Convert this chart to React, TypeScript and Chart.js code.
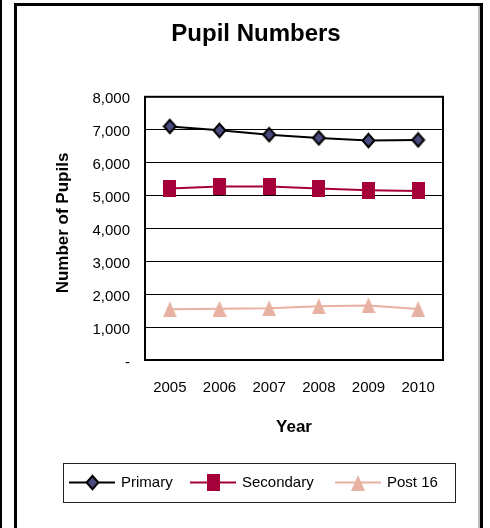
import React, { useEffect, useRef } from 'react';
import { Chart, registerables } from 'chart.js';

Chart.register(...registerables);

// ---- data ----
const years = ['2005', '2006', '2007', '2008', '2009', '2010'];
const primary = [7100, 6980, 6850, 6750, 6670, 6690];
const secondary = [5210, 5270, 5270, 5210, 5160, 5140];
const post16 = [1540, 1560, 1570, 1630, 1660, 1550];
const seriesLabels = ['Primary', 'Secondary', 'Post 16'];
const chartTitle = 'Pupil Numbers';
const xTitle = 'Year';
const yTitle = 'Number of Pupils';
const yMin = 0;
const yMax = 8000;
const yStep = 1000;

const FONT = '"Liberation Sans", Arial, Helvetica, sans-serif';
const PRIMARY_FILL = '#4B4A7E';
const SECONDARY_COLOR = '#A6003A';
const POST16_COLOR = '#E8B2A2';

function makeCanvas(w: number, h: number) {
  const c = document.createElement('canvas');
  c.width = w;
  c.height = h;
  return c;
}

function diamondImg() {
  const w = 15, h = 17;
  const c = makeCanvas(w, h);
  const ctx = c.getContext('2d')!;
  ctx.beginPath();
  ctx.moveTo(w / 2, 1.8);
  ctx.lineTo(w - 1.6, h / 2);
  ctx.lineTo(w / 2, h - 1.8);
  ctx.lineTo(1.6, h / 2);
  ctx.closePath();
  ctx.fillStyle = PRIMARY_FILL;
  ctx.fill();
  ctx.lineWidth = 2;
  ctx.lineJoin = 'miter';
  ctx.strokeStyle = '#000';
  ctx.stroke();
  return c;
}

function squareImg() {
  const c = makeCanvas(13, 17);
  const ctx = c.getContext('2d')!;
  ctx.fillStyle = SECONDARY_COLOR;
  ctx.fillRect(0, 0, 13, 17);
  return c;
}

function triangleImg() {
  const w = 14, h = 16;
  const c = makeCanvas(w, h);
  const ctx = c.getContext('2d')!;
  ctx.beginPath();
  ctx.moveTo(w / 2, 0);
  ctx.lineTo(w, h);
  ctx.lineTo(0, h);
  ctx.closePath();
  ctx.fillStyle = POST16_COLOR;
  ctx.fill();
  return c;
}

const decorPlugin = {
  id: 'decor',
  beforeDatasetsDraw(chart: any) {
    const { ctx, chartArea } = chart;
    ctx.save();
    ctx.strokeStyle = '#000';
    ctx.lineWidth = 2;
    ctx.strokeRect(chartArea.left, chartArea.top, chartArea.right - chartArea.left, chartArea.bottom - chartArea.top);
    ctx.restore();
  },
  afterDraw(chart: any) {
    const ctx = chart.ctx;
    ctx.save();
    // outer frames
    ctx.fillStyle = '#000';
    ctx.fillRect(0, 0, 2, 528);
    ctx.fillRect(14, 3, 469, 3);
    ctx.fillRect(14, 3, 3, 525);
    ctx.fillRect(480, 3, 3, 525);
    ctx.fillStyle = '#bbb';
    ctx.fillRect(478, 6, 2, 522);
    // y axis title
    ctx.save();
    ctx.translate(63.5, 223);
    ctx.rotate(-Math.PI / 2);
    ctx.fillStyle = '#000';
    ctx.font = 'bold 17px ' + FONT;
    ctx.textAlign = 'center';
    ctx.textBaseline = 'middle';
    ctx.fillText(yTitle, 0, 0);
    ctx.restore();
    // legend box
    ctx.strokeStyle = '#222';
    ctx.lineWidth = 1;
    ctx.strokeRect(63.5, 463.5, 392, 39);
    const starts = [69, 190, 335];
    const cy = 482.5;
    chart.data.datasets.forEach((ds: any, i: number) => {
      const x = starts[i];
      ctx.strokeStyle = ds.borderColor;
      ctx.lineWidth = ds.borderWidth;
      ctx.beginPath();
      ctx.moveTo(x, cy);
      ctx.lineTo(x + 46, cy);
      ctx.stroke();
      const img = ds.pointStyle;
      ctx.drawImage(img, Math.round(x + 23 - img.width / 2), Math.round(cy - img.height / 2));
      ctx.fillStyle = '#000';
      ctx.font = '15px ' + FONT;
      ctx.textBaseline = 'middle';
      ctx.textAlign = 'left';
      ctx.fillText(ds.label, x + 52, cy);
    });
    ctx.restore();
  },
};

export default function App() {
  const ref = useRef<HTMLCanvasElement | null>(null);
  useEffect(() => {
    if (!ref.current) return;
    const chart = new Chart(ref.current, {
      type: 'line',
      data: {
        labels: years,
        datasets: [
          {
            label: seriesLabels[0],
            data: primary,
            borderColor: '#000',
            borderWidth: 2,
            pointStyle: diamondImg() as any,
            pointRadius: 7,
            tension: 0,
          },
          {
            label: seriesLabels[1],
            data: secondary,
            borderColor: SECONDARY_COLOR,
            borderWidth: 2,
            pointStyle: squareImg() as any,
            pointRadius: 7,
            tension: 0,
          },
          {
            label: seriesLabels[2],
            data: post16,
            borderColor: POST16_COLOR,
            borderWidth: 2,
            pointStyle: triangleImg() as any,
            pointRadius: 7,
            tension: 0,
          },
        ],
      },
      options: {
        responsive: false,
        animation: false,
        devicePixelRatio: 1,
        layout: { padding: { left: 22, right: 0, top: 0, bottom: 78 } },
        plugins: {
          legend: { display: false },
          tooltip: { enabled: false },
          title: {
            display: true,
            text: chartTitle,
            color: '#000',
            font: { family: FONT, size: 24, weight: 'bold' },
            padding: { top: 20, bottom: 48 },
          },
        },
        scales: {
          x: {
            offset: true,
            grid: { display: false, offset: true },
            border: { display: false },
            ticks: { color: '#000', font: { family: FONT, size: 15 }, padding: 11, maxRotation: 0 },
            title: {
              display: true,
              text: xTitle,
              color: '#000',
              font: { family: FONT, size: 17, weight: 'bold' },
              padding: { top: 0, bottom: 12.8 },
            },
            afterFit: (s: any) => { s.height = 90; },
          },
          y: {
            min: yMin,
            max: yMax,
            grid: { color: '#000', lineWidth: 1, drawTicks: false },
            border: { display: false },
            ticks: {
              stepSize: yStep,
              color: '#000',
              font: { family: FONT, size: 15 },
              padding: 15,
              labelOffset: 2.5,
              callback: (v: any) => (Number(v) === 0 ? '-' : Number(v).toLocaleString('en-US')),
            },
            title: { display: false },
            afterFit: (s: any) => { s.width = 123; },
          },
          y2: {
            position: 'right',
            min: 0,
            max: 1,
            grid: { display: false },
            border: { display: false },
            ticks: { display: false },
            afterFit: (s: any) => { s.width = 47; },
          },
        },
      } as any,
      plugins: [decorPlugin],
    });
    return () => chart.destroy();
  }, []);
  return (
    <div style={{ position: 'fixed', left: 0, top: 0, width: 490, height: 528 }}>
      <canvas ref={ref} width={490} height={528} style={{ display: 'block' }} />
    </div>
  );
}
